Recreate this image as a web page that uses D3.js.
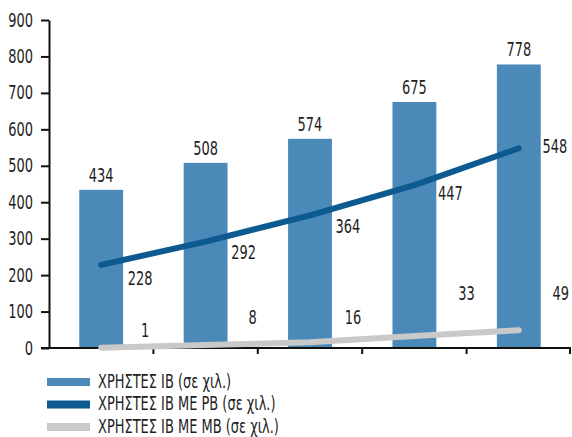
<!DOCTYPE html>
<html>
<head>
<meta charset="utf-8">
<script src="https://cdn.jsdelivr.net/npm/d3@7"></script>
<style>
  html, body { margin: 0; padding: 0; background: #fff; }
  svg text { font-family: "DejaVu Sans Condensed", "Liberation Sans Narrow", sans-serif; fill: #1e1e1e; }
</style>
</head>
<body>
<svg id="chart" width="572" height="437"></svg>
<script>
// Periods (not labelled on the axis)
const periods = ["Π1", "Π2", "Π3", "Π4", "Π5"];
// Users of internet banking (thousands)
const usersIB = [434, 508, 574, 675, 778];
// Users with PB (thousands)
const usersPB = [228, 292, 364, 447, 548];
// Users with MB (thousands)
const usersMB = [1, 8, 16, 33, 49];
const yTicks = [0, 100, 200, 300, 400, 500, 600, 700, 800, 900];
const legendLabels = ["ΧΡΗΣΤΕΣ ΙΒ (σε χιλ.)", "ΧΡΗΣΤΕΣ ΙΒ ΜΕ ΡΒ (σε χιλ.)", "ΧΡΗΣΤΕΣ ΙΒ ΜΕ ΜΒ (σε χιλ.)"];

// Hand-placed label nudges for the two line series [dx, dy]
const pbLabelNudge = [[39, 13], [38, 11], [38, 11], [36, 8], [36, -2]];
const mbLabelNudge = [[44, -17], [47, -28], [43, -25], [52, -43], [42, -37]];

const colors = { ib: "#4a89b8", pb: "#0d5a90", mb: "#c9c9c9" };
const squeeze = 0.76; // horizontal compression for a narrow, condensed look

// Compress text horizontally while keeping its anchor point in place
function condense(sel) {
  sel.each(function () {
    const t = d3.select(this);
    const x0 = +t.attr("x") || 0;
    t.attr("x", x0 / squeeze).attr("transform", `scale(${squeeze},1)`);
  });
}

const svg = d3.select("#chart");
const plotLeft = 49, plotRight = 571, plotTop = 20, plotBottom = 348;

const x = d3.scaleBand().domain(periods).range([plotLeft, plotRight])
  .paddingInner(0.58).paddingOuter(0.29);
const y = d3.scaleLinear().domain([0, 900]).range([plotBottom, plotTop]);
const cx = p => x(p) + x.bandwidth() / 2;

// Bars
svg.append("g").selectAll("rect").data(periods).join("rect")
  .attr("x", d => x(d))
  .attr("width", x.bandwidth())
  .attr("y", (d, i) => y(usersIB[i]))
  .attr("height", (d, i) => y(0) - y(usersIB[i]))
  .attr("fill", colors.ib);

// Y axis
const yAxis = svg.append("g").attr("transform", `translate(${plotLeft},0)`)
  .call(d3.axisLeft(y).tickValues(yTicks).tickSize(8).tickPadding(8).tickSizeOuter(0));
yAxis.attr("font-family", null).attr("font-size", null);
yAxis.select(".domain").attr("stroke", "#111").attr("stroke-width", 2);
yAxis.selectAll(".tick line").attr("stroke", "#111").attr("stroke-width", 2);
yAxis.selectAll(".tick text").attr("font-size", 19).attr("fill", null).call(condense);

// X axis: baseline with ticks at band boundaries
const xg = svg.append("g");
xg.append("line").attr("x1", plotLeft - 8).attr("x2", plotRight)
  .attr("y1", y(0)).attr("y2", y(0)).attr("stroke", "#111").attr("stroke-width", 2);
xg.selectAll("line.tick").data(periods).join("line").attr("class", "tick")
  .attr("x1", d => Math.min(plotRight - 1, x(d) + x.bandwidth() / 2 + x.step() / 2))
  .attr("x2", d => Math.min(plotRight - 1, x(d) + x.bandwidth() / 2 + x.step() / 2))
  .attr("y1", y(0)).attr("y2", y(0) + 6)
  .attr("stroke", "#111").attr("stroke-width", 2);

// Lines
const line = vals => d3.line().x((d, i) => cx(periods[i])).y(d => y(d))(vals);
svg.append("path").attr("d", line(usersPB)).attr("fill", "none")
  .attr("stroke", colors.pb).attr("stroke-width", 6).attr("stroke-linecap", "round");
svg.append("path").attr("d", line(usersMB)).attr("fill", "none")
  .attr("stroke", colors.mb).attr("stroke-width", 6).attr("stroke-linecap", "round");

// Value labels
const labels = svg.append("g").attr("font-size", 19).attr("text-anchor", "middle");
labels.selectAll("text.ib").data(usersIB).join("text").attr("class", "ib")
  .attr("x", (d, i) => cx(periods[i])).attr("y", d => y(d) - 8).text(d => d);
labels.selectAll("text.pb").data(usersPB).join("text").attr("class", "pb")
  .attr("x", (d, i) => cx(periods[i]) + pbLabelNudge[i][0])
  .attr("y", (d, i) => y(d) + pbLabelNudge[i][1]).attr("dy", "0.36em").text(d => d);
labels.selectAll("text.mb").data(usersMB).join("text").attr("class", "mb")
  .attr("x", (d, i) => cx(periods[i]) + mbLabelNudge[i][0])
  .attr("y", (d, i) => y(d) + mbLabelNudge[i][1]).attr("dy", "0.36em").text(d => d);
labels.selectAll("text").call(condense);

// Legend
const legend = svg.append("g").attr("transform", "translate(47,382)");
const legendColors = [colors.ib, colors.pb, colors.mb];
legendLabels.forEach((t, i) => {
  const g = legend.append("g").attr("transform", `translate(0,${i * 22.5})`);
  g.append("rect").attr("x", 0).attr("y", -4).attr("width", 43).attr("height", 8).attr("fill", legendColors[i]);
  g.append("text").attr("x", 51).attr("y", -1).attr("dy", "0.36em").attr("font-size", 19).text(t).call(condense);
});
</script>
</body>
</html>
